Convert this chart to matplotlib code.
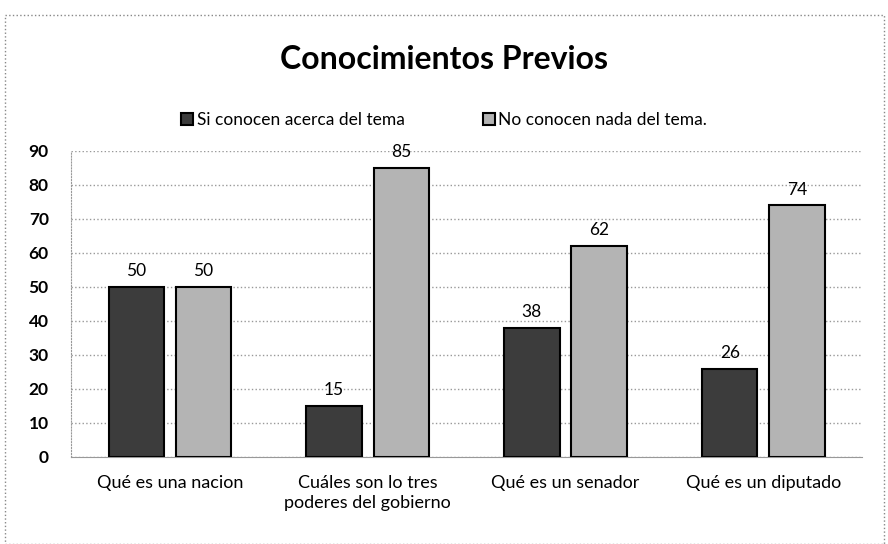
import numpy as np
import matplotlib.pyplot as plt
from matplotlib.patches import Rectangle

categories = ['Qué es una nacion', 'Cuáles son lo tres\npoderes del gobierno',
              'Qué es un senador', 'Qué es un diputado']
si_conocen = [50, 15, 38, 26]
no_conocen = [50, 85, 62, 74]
series_names = ['Si conocen acerca del tema', 'No conocen nada del tema.']
yticks = list(range(0, 100, 10))

plt.rcParams['font.family'] = ['Lato', 'DejaVu Sans']

fig = plt.figure(figsize=(8.88, 5.44), dpi=100)
ax = fig.add_axes([0.08, 0.160, 0.891, 0.5625])

x = np.arange(len(categories))
w = 0.28
off = 0.17
b1 = ax.bar(x - off, si_conocen, w, color='#3c3c3c', edgecolor='black', linewidth=1.5,
            label=series_names[0], zorder=3)
b2 = ax.bar(x + off, no_conocen, w, color='#b4b4b4', edgecolor='black', linewidth=1.5,
            label=series_names[1], zorder=3)

for bars in (b1, b2):
    for r in bars:
        ax.text(r.get_x() + r.get_width() / 2, r.get_height() + 2.3, f'{r.get_height():.0f}',
                ha='center', va='bottom', fontsize=12.5)

ax.set_xlim(-0.5, len(categories) - 0.5)
ax.set_ylim(0, 90)
ax.set_yticks(yticks)
ax.set_xticks(x)
ax.set_xticklabels(categories, fontsize=13, linespacing=1.3)
ax.tick_params(axis='y', labelsize=12.5, length=0, pad=16)
ax.tick_params(axis='x', length=0, pad=13)
for lab in ax.get_yticklabels():
    lab.set_fontweight('bold')
ax.yaxis.grid(True, color='#999999', linestyle=':', linewidth=1.0, zorder=0)
for s in ('top', 'right'):
    ax.spines[s].set_visible(False)
ax.spines['left'].set_color('#999999')
ax.spines['left'].set_linestyle(':')
ax.spines['bottom'].set_color('#999999')

fig.text(0.5, 0.89, 'Conocimientos Previos', ha='center', va='center',
         fontsize=23, fontweight='bold')
fig.legend(loc='center', bbox_to_anchor=(0.5, 0.779), ncol=2, frameon=False,
           fontsize=12.5, handlelength=0.7, handleheight=0.7, handletextpad=0.2,
           columnspacing=4.5)

fig.patches.append(Rectangle((0.006, 0.0), 0.99, 0.973, transform=fig.transFigure,
                             fill=False, edgecolor='#888888', linewidth=1.0,
                             linestyle=':'))

fig.savefig('out.png', dpi=100)
